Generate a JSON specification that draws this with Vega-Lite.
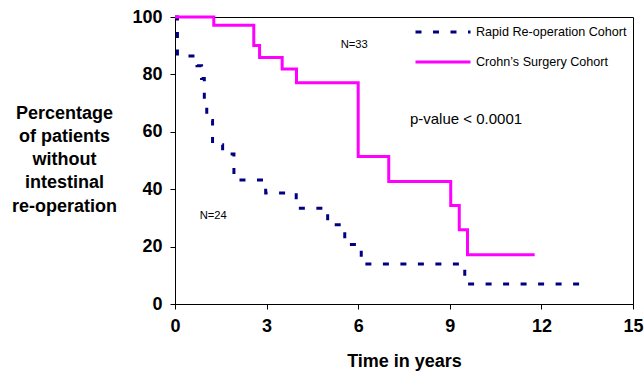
{
  "$schema": "https://vega.github.io/schema/vega-lite/v6.json",
  "width": 458,
  "height": 287,
  "autosize": {"type": "none"},
  "padding": {"left": 175, "top": 17, "right": 11, "bottom": 69},
  "background": "white",
  "config": {
    "view": {"stroke": "#000000", "strokeWidth": 1},
    "font": "Liberation Sans"
  },
  "datasets": {
    "curves": [
      {"cohort": "Rapid Re-operation Cohort", "t": 0, "pct": 100},
      {"cohort": "Rapid Re-operation Cohort", "t": 0.08, "pct": 86.4},
      {"cohort": "Rapid Re-operation Cohort", "t": 0.72, "pct": 83.0},
      {"cohort": "Rapid Re-operation Cohort", "t": 0.87, "pct": 78.6},
      {"cohort": "Rapid Re-operation Cohort", "t": 0.96, "pct": 70.5},
      {"cohort": "Rapid Re-operation Cohort", "t": 1.04, "pct": 63.9},
      {"cohort": "Rapid Re-operation Cohort", "t": 1.23, "pct": 55.5},
      {"cohort": "Rapid Re-operation Cohort", "t": 1.56, "pct": 52.3},
      {"cohort": "Rapid Re-operation Cohort", "t": 1.93, "pct": 43.2},
      {"cohort": "Rapid Re-operation Cohort", "t": 2.97, "pct": 38.7},
      {"cohort": "Rapid Re-operation Cohort", "t": 3.97, "pct": 33.4},
      {"cohort": "Rapid Re-operation Cohort", "t": 5.0, "pct": 27.6},
      {"cohort": "Rapid Re-operation Cohort", "t": 5.56, "pct": 20.7},
      {"cohort": "Rapid Re-operation Cohort", "t": 6.1, "pct": 13.9},
      {"cohort": "Rapid Re-operation Cohort", "t": 9.49, "pct": 7.0},
      {"cohort": "Rapid Re-operation Cohort", "t": 13.5, "pct": 7.0},
      {"cohort": "Crohn’s Surgery Cohort", "t": 0, "pct": 100},
      {"cohort": "Crohn’s Surgery Cohort", "t": 1.27, "pct": 97.1},
      {"cohort": "Crohn’s Surgery Cohort", "t": 2.58, "pct": 90.1},
      {"cohort": "Crohn’s Surgery Cohort", "t": 2.77, "pct": 85.9},
      {"cohort": "Crohn’s Surgery Cohort", "t": 3.51, "pct": 81.9},
      {"cohort": "Crohn’s Surgery Cohort", "t": 3.98, "pct": 77.1},
      {"cohort": "Crohn’s Surgery Cohort", "t": 6.0, "pct": 51.4},
      {"cohort": "Crohn’s Surgery Cohort", "t": 7.0, "pct": 42.7},
      {"cohort": "Crohn’s Surgery Cohort", "t": 9.03, "pct": 34.3},
      {"cohort": "Crohn’s Surgery Cohort", "t": 9.31, "pct": 25.9},
      {"cohort": "Crohn’s Surgery Cohort", "t": 9.58, "pct": 17.2},
      {"cohort": "Crohn’s Surgery Cohort", "t": 11.78, "pct": 17.2}
    ],
    "notes": [
      {"label": "N=33", "t": 5.87, "pct": 90.1, "fs": 11.2},
      {"label": "N=24", "t": 1.25, "pct": 30.8, "fs": 11.2},
      {"label": "p-value < 0.0001", "t": 9.53, "pct": 64.6, "fs": 15}
    ]
  },
  "layer": [
    {
      "data": {"name": "curves"},
      "mark": {"type": "line", "interpolate": "step-after", "strokeWidth": 3, "clip": false},
      "encoding": {
        "x": {
          "field": "t", "type": "quantitative",
          "scale": {"domain": [0, 15], "nice": false, "zero": true},
          "axis": {
            "values": [0, 3, 6, 9, 12, 15],
            "title": "Time in years",
            "grid": false,
            "domainColor": "#000000",
            "tickColor": "#000000",
            "tickSize": 5,
            "labelFont": "Liberation Sans",
            "labelFontWeight": "bold",
            "labelFontSize": 18,
            "labelColor": "#000000",
            "labelPadding": 8,
            "labelFlush": false,
            "titleFont": "Liberation Sans",
            "titleFontWeight": "bold",
            "titleFontSize": 18,
            "titleColor": "#000000",
            "titlePadding": 17
          }
        },
        "y": {
          "field": "pct", "type": "quantitative",
          "scale": {"domain": [0, 100], "nice": false},
          "axis": {
            "values": [0, 20, 40, 60, 80, 100],
            "title": ["Percentage", "of patients", "without", "intestinal", "re-operation"],
            "grid": false,
            "domainColor": "#000000",
            "tickColor": "#000000",
            "tickSize": 5,
            "labelFont": "Liberation Sans",
            "labelFontWeight": "bold",
            "labelFontSize": 18,
            "labelColor": "#000000",
            "labelPadding": 8,
            "labelFlush": false,
            "titleFont": "Liberation Sans",
            "titleFontWeight": "bold",
            "titleFontSize": 18,
            "titleColor": "#000000",
            "titleAngle": 0,
            "titleAlign": "center",
            "titleBaseline": "middle",
            "titleX": -111,
            "titleY": 96,
            "titleLineHeight": 23.3
          }
        },
        "color": {
          "field": "cohort", "type": "nominal",
          "scale": {
            "domain": ["Rapid Re-operation Cohort", "Crohn’s Surgery Cohort"],
            "range": ["#000080", "#FF00FF"]
          },
          "legend": {
            "title": null,
            "orient": "none",
            "legendX": 239,
            "legendY": 8,
            "symbolType": "stroke",
            "symbolSize": 3025,
            "symbolStrokeWidth": 3,
            "clipHeight": 14,
            "rowPadding": 16,
            "labelOffset": 4,
            "labelFont": "Liberation Sans",
            "labelFontSize": 12.6,
            "labelColor": "#000000",
            "padding": 0
          }
        },
        "strokeDash": {
          "field": "cohort", "type": "nominal",
          "scale": {
            "domain": ["Rapid Re-operation Cohort", "Crohn’s Surgery Cohort"],
            "range": [[6, 11.5], [1, 0]]
          },
          "legend": null
        }
      }
    },
    {
      "data": {"name": "notes"},
      "mark": {"type": "text", "font": "Liberation Sans", "color": "#000000", "align": "center", "baseline": "middle"},
      "encoding": {
        "x": {"field": "t", "type": "quantitative"},
        "y": {"field": "pct", "type": "quantitative"},
        "text": {"field": "label"},
        "size": {"field": "fs", "type": "quantitative", "scale": null, "legend": null}
      }
    }
  ]
}
